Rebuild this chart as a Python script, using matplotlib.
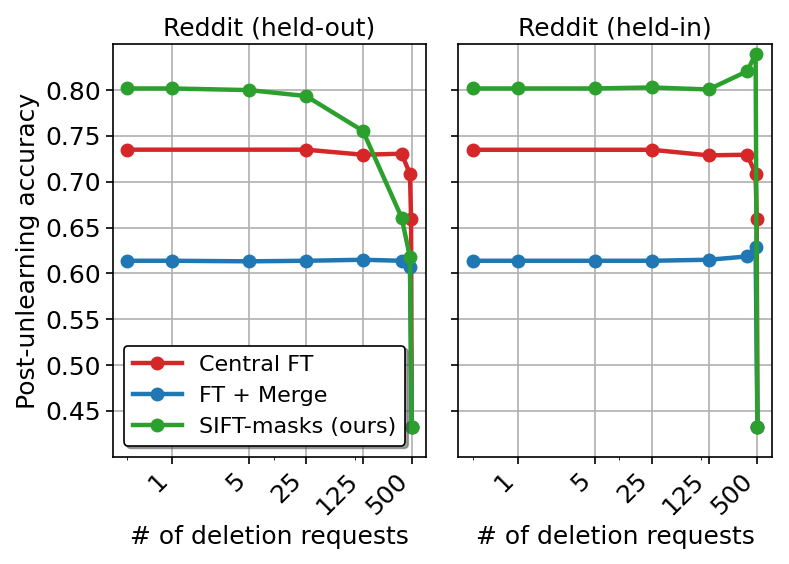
import matplotlib
matplotlib.use("Agg")
import matplotlib.pyplot as plt

# ---- data ----
x_full = [0, 1, 5, 25, 125, 375, 475, 500]
x_red = [0, 25, 125, 375, 475, 490, 500]

left_green = [0.8018, 0.8018, 0.800, 0.7935, 0.7555, 0.661, 0.6175, 0.432]
left_red = [0.735, 0.735, 0.7295, 0.7306, 0.7086, 0.6598, 0.432]
left_blue = [0.6138, 0.6138, 0.6132, 0.6138, 0.6149, 0.6138, 0.6066, 0.432]

right_green = [0.8018, 0.8018, 0.8018, 0.8029, 0.8007, 0.8206, 0.8398, 0.432]
right_red = [0.7349, 0.7349, 0.7288, 0.7295, 0.7085, 0.6598, 0.432]
right_blue = [0.6138, 0.6138, 0.6138, 0.6138, 0.6149, 0.6185, 0.6283, 0.432]

titles = ["Reddit (held-out)", "Reddit (held-in)"]
series_labels = ["Central FT", "FT + Merge", "SIFT-masks (ours)"]
xtick_vals = [1, 5, 25, 125, 500]
xtick_labels = ["1", "5", "25", "125", "500"]

fig, axes = plt.subplots(1, 2, figsize=(7.89, 5.64), dpi=100, sharey=True)
fig.subplots_adjust(left=0.1428, right=0.978, bottom=0.1902, top=0.9215, wspace=0.103)

data = [(left_red, left_blue, left_green), (right_red, right_blue, right_green)]
for ax, title, (r, b, g) in zip(axes, titles, data):
    ax.plot(x_red, r, color="tab:red", marker="o", lw=3.2, ms=9, label=series_labels[0])
    ax.plot(x_full, b, color="tab:blue", marker="o", lw=3.2, ms=9, label=series_labels[1])
    ax.plot(x_full, g, color="tab:green", marker="o", lw=3.2, ms=9, label=series_labels[2])
    ax.set_xscale("symlog", linthresh=2)
    ax.set_xticks(xtick_vals)
    ax.set_xticklabels(xtick_labels, rotation=45, ha="right", fontsize=18)
    ax.tick_params(axis="y", labelsize=18)
    ax.tick_params(axis="both", length=5, width=1.2)
    ax.grid(True, color="#b0b0b0", lw=1.2)
    ax.set_title(title, fontsize=18)
    ax.set_xlabel("# of deletion requests", fontsize=18)
    for s in ax.spines.values():
        s.set_linewidth(1.2)

axes[0].set_ylim(0.40, 0.85)
axes[0].set_yticks([0.45, 0.50, 0.55, 0.60, 0.65, 0.70, 0.75, 0.80])
axes[0].set_ylabel("Post-unlearning accuracy", fontsize=18)
leg = axes[0].legend(loc="lower left", fontsize=16, shadow=True, framealpha=1,
                     edgecolor="black", handlelength=2.2)
leg.get_frame().set_linewidth(1.2)

fig.savefig("out.png", dpi=100)
